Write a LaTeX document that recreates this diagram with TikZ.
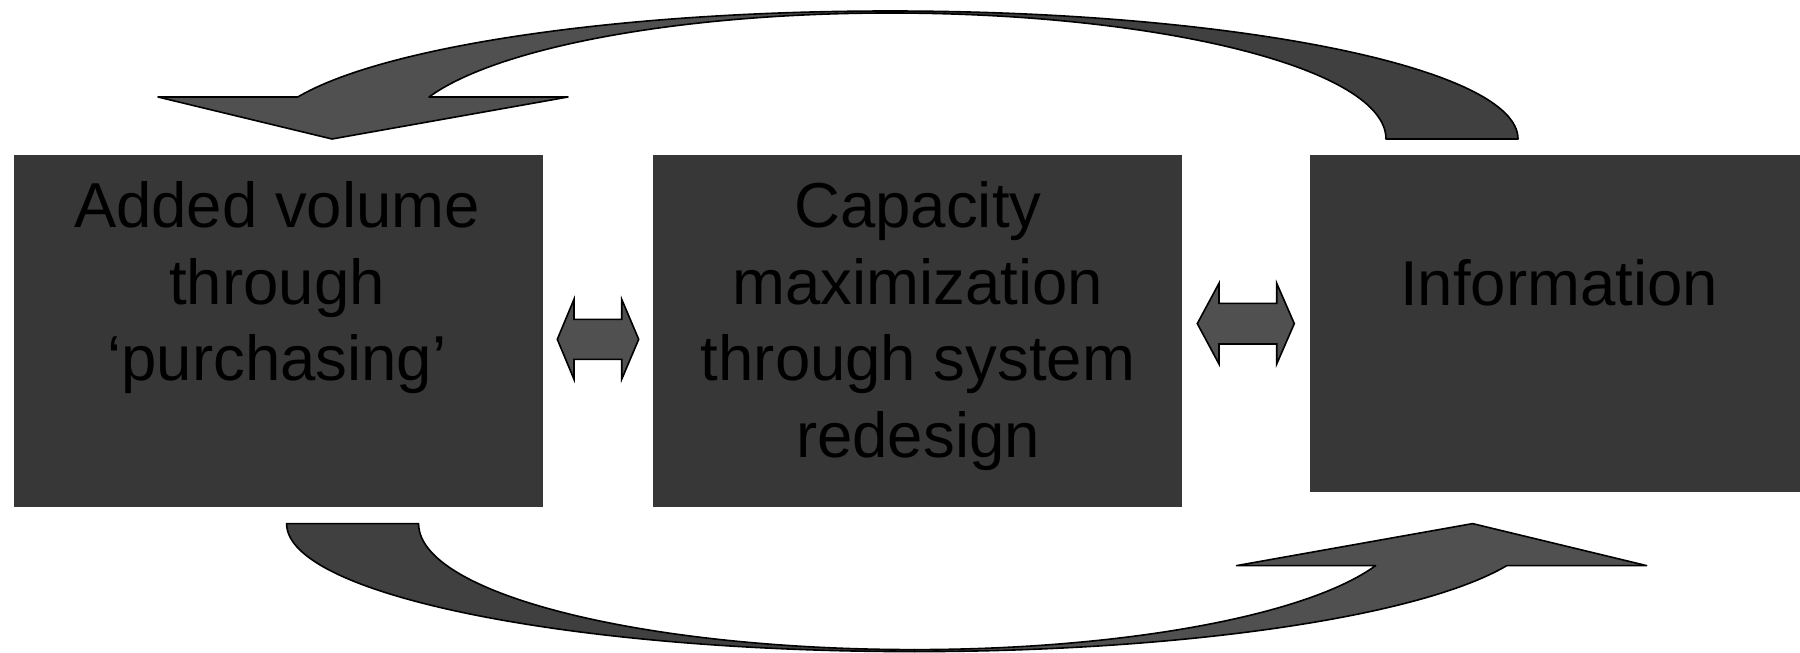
\documentclass[tikz,border=0pt]{standalone}
\usepackage{fontspec}
\setmainfont{Liberation Sans}
\definecolor{boxgray}{HTML}{373737}
\definecolor{bandlightgray}{HTML}{505050}
\definecolor{banddarkgray}{HTML}{404040}

\tikzset{
  panel/.style={fill=boxgray, draw=none, inner sep=0pt},
  paneltext/.style={anchor=base, inner sep=0pt, text=black,
    font=\fontsize{63.5}{76.7}\selectfont},
  bandlight/.style={fill=bandlightgray, draw=black, line width=1.6pt, line join=round},
  banddark/.style={fill=banddarkgray, draw=black, line width=1.6pt, line join=round},
  twoway/.style={fill=bandlightgray, draw=black, line width=1.6pt, line join=miter}
}

% One curved block arrow: dark tail half on the right, light head half on the left
\newcommand{\curvedband}{%
  \draw[banddark] (1518,139)
    arc[start angle=0, end angle=-90, x radius=628, y radius=128]
    -- (890,13)
    arc[start angle=-90, end angle=0, x radius=496, y radius=126] -- cycle;
  \draw[bandlight] (890,11)
    arc[start angle=-90, end angle=-160.85, x radius=627, y radius=128]
    -- (158,97) -- (332,139) -- (568,97) -- (429,97)
    arc[start angle=-160.53, end angle=-90, x radius=489, y radius=126] -- cycle;
}

\begin{document}
\begin{tikzpicture}[x=1pt, y=-1pt]
  \useasboundingbox (0,0) rectangle (1800,653);

  % panels
  \node[panel, minimum width=528.5pt, minimum height=351.5pt] (volume) at (278.25,330.75) {};
  \node[panel, minimum width=529.4pt, minimum height=351.5pt] (capacity) at (917.7,330.75) {};
  \node[panel, minimum width=490pt, minimum height=337pt] (info) at (1555,323.5) {};

  % panel texts
  \node[paneltext] (volumetext) at (277,227.3)
    {\parbox[t]{540pt}{\centering Added volume\\through\\‘purchasing’}};
  \node[paneltext] (capacitytext) at (918,227.3)
    {\parbox[t]{540pt}{\centering Capacity\\maximization\\through system\\redesign}};
  \node[paneltext] (infotext) at (1559,305.7) {Information};

  % curved arrows over and under the panels
  \curvedband
  \begin{scope}[rotate around={180:(902.3,331.3)}]
    \curvedband
  \end{scope}

  % two-way arrows between the panels
  \draw[twoway] (557.3,339.3) -- (574,299.3) -- (574,319.3) -- (621.7,319.3)
    -- (621.7,299.3) -- (638.7,339.3) -- (621.7,379.3) -- (621.7,359.3)
    -- (574,359.3) -- (574,379.3) -- cycle;
  \draw[twoway] (1197.3,323.6) -- (1219,283.3) -- (1219,303.3) -- (1276.7,303.3)
    -- (1276.7,283.3) -- (1294.3,323.6) -- (1276.7,364) -- (1276.7,344)
    -- (1219,344) -- (1219,364) -- cycle;
\end{tikzpicture}
\end{document}
